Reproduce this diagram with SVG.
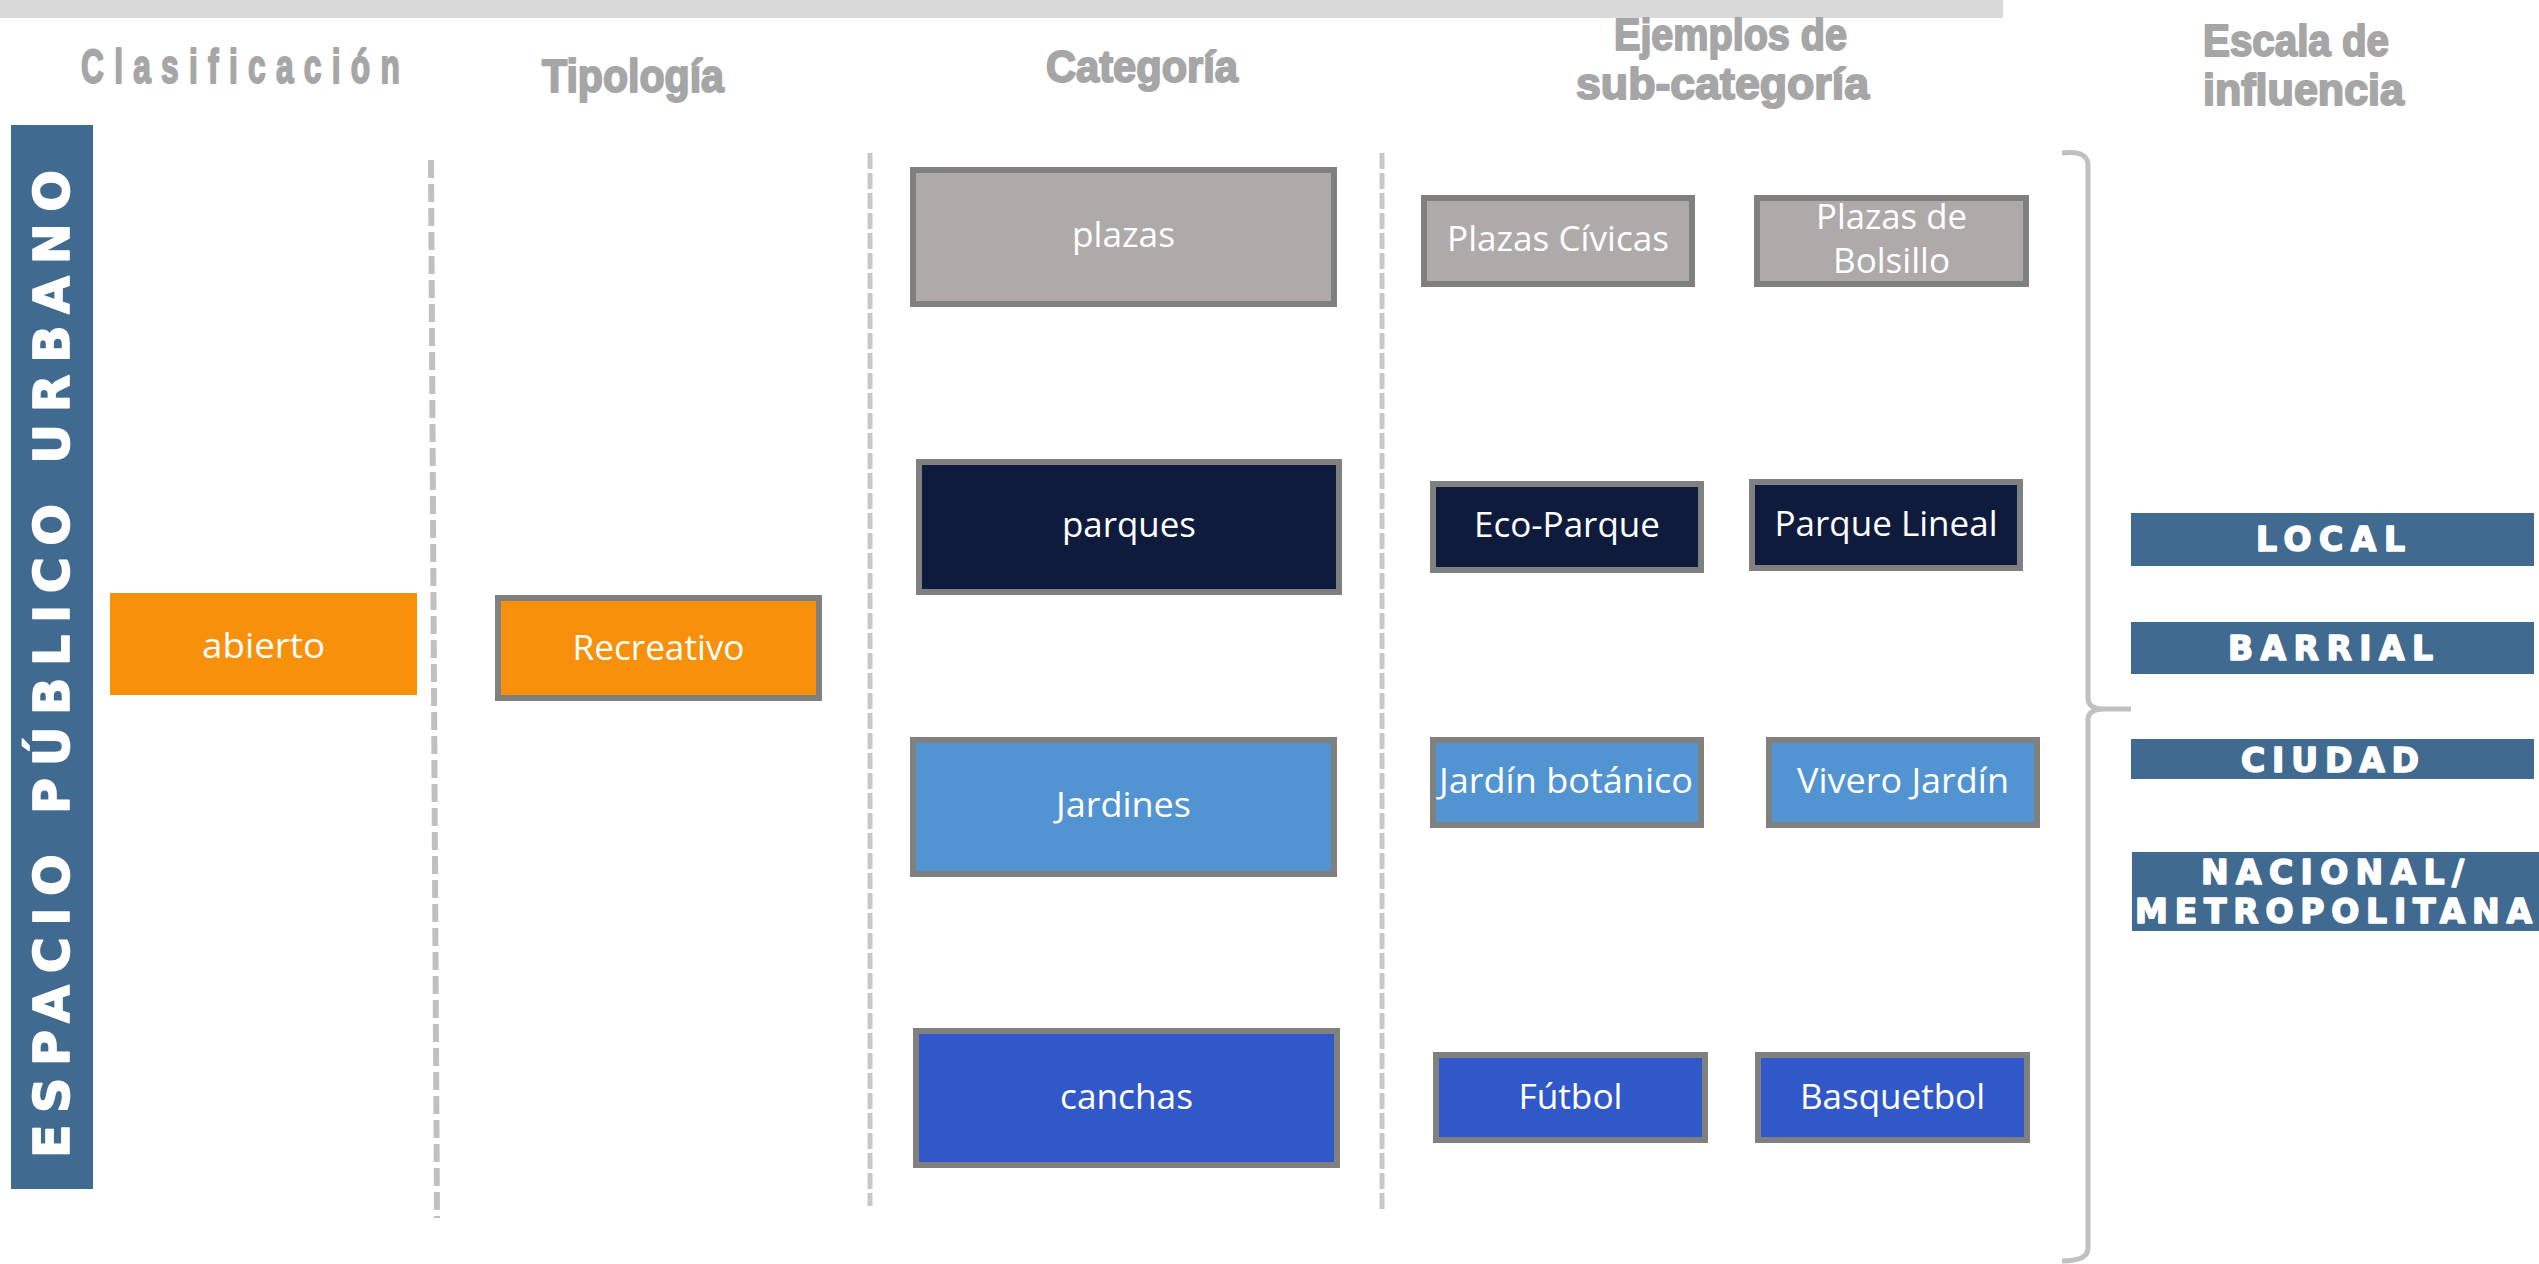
<svg xmlns="http://www.w3.org/2000/svg" width="2539" height="1264" viewBox="0 0 2539 1264">
<style>
.hdr{font-family:"Liberation Sans",Arial,sans-serif;font-weight:bold;fill:#a6a6a6;stroke:#a6a6a6;stroke-width:2;stroke-linejoin:round}
.box{stroke:#808080;stroke-width:6}
.lbl{font-family:"Open Sans","Noto Sans",sans-serif;font-size:35px;fill:#ffffff;text-anchor:middle}
.heavy{font-family:"DejaVu Sans","Liberation Sans",sans-serif;font-weight:bold;fill:#ffffff;stroke:#ffffff;stroke-width:1.6;stroke-linejoin:round}
.sep1{stroke:#c0c0c0;stroke-width:6;stroke-dasharray:18 6;fill:none}
.sep2{stroke:#c8c8c8;stroke-width:5;stroke-dasharray:16 4;fill:none}
.brace{stroke:#c0c0c0;stroke-width:5;fill:none}
.gray{fill:#aeaaaa}.navy{fill:#0f1b3d}.lblue{fill:#5294d1}.dblue{fill:#3158c8}.orange{fill:#f7910b}.steel{fill:#416a90}
</style>
<rect x="0" y="0" width="2003" height="18" fill="#d9d9d9"/>
<g id="headers">
<text class="hdr" font-size="48" transform="scale(0.66,1)" x="122.7" y="83" textLength="483" lengthAdjust="spacing">Clasificación</text>
<text class="hdr" font-size="46" x="542" y="92" textLength="182" lengthAdjust="spacingAndGlyphs">Tipología</text>
<text class="hdr" font-size="45" x="1046" y="82" textLength="192" lengthAdjust="spacingAndGlyphs">Categoría</text>
<text class="hdr" font-size="45" x="1614" y="50" textLength="233" lengthAdjust="spacingAndGlyphs">Ejemplos de</text>
<text class="hdr" font-size="45" x="1576" y="99" textLength="293" lengthAdjust="spacingAndGlyphs">sub-categoría</text>
<text class="hdr" font-size="44" x="2203" y="56" textLength="186" lengthAdjust="spacingAndGlyphs">Escala de</text>
<text class="hdr" font-size="44" x="2203" y="105" textLength="201" lengthAdjust="spacingAndGlyphs">influencia</text>
</g>
<g id="connectors">
<line class="sep1" x1="431" y1="160" x2="437" y2="1218"/>
<line class="sep2" x1="870" y1="153" x2="870" y2="1206"/>
<line class="sep2" x1="1382" y1="153" x2="1382" y2="1210"/>
<path class="brace" d="M2062,153 Q2088,150 2088,165 L2088,698 Q2088,709 2104,709 L2131,709 M2104,709 Q2088,709 2088,720 L2088,1248 Q2088,1261 2062,1261"/>
</g>
<g id="espacio-publico-urbano">
<rect class="steel" x="11" y="125" width="82" height="1064"/>
<text class="heavy" font-size="49" transform="translate(69,1158) rotate(-90)" x="0" y="0" textLength="988" lengthAdjust="spacing">ESPACIO PÚBLICO URBANO</text>
</g>
<g id="abierto">
<rect class="orange" x="110" y="593" width="307" height="102"/>
<text class="lbl" x="263.5" y="658" textLength="123" lengthAdjust="spacingAndGlyphs">abierto</text>
</g>
<g id="recreativo">
<rect class="orange box" x="498" y="598" width="321" height="100"/>
<text class="lbl" x="658.5" y="660" textLength="172" lengthAdjust="spacingAndGlyphs">Recreativo</text>
</g>
<g id="plazas">
<rect class="gray box" x="913" y="170" width="421" height="134"/>
<text class="lbl" x="1123.5" y="247" textLength="103" lengthAdjust="spacingAndGlyphs">plazas</text>
</g>
<g id="parques">
<rect class="navy box" x="919" y="462" width="420" height="130"/>
<text class="lbl" x="1129" y="537" textLength="134" lengthAdjust="spacingAndGlyphs">parques</text>
</g>
<g id="jardines">
<rect class="lblue box" x="913" y="740" width="421" height="134"/>
<text class="lbl" x="1123.5" y="817" textLength="135" lengthAdjust="spacingAndGlyphs">Jardines</text>
</g>
<g id="canchas">
<rect class="dblue box" x="916" y="1031" width="421" height="134"/>
<text class="lbl" x="1126.5" y="1109" textLength="133" lengthAdjust="spacingAndGlyphs">canchas</text>
</g>
<g id="plazas-civicas">
<rect class="gray box" x="1424" y="198" width="268" height="86"/>
<text class="lbl" x="1558" y="251" textLength="222" lengthAdjust="spacingAndGlyphs">Plazas Cívicas</text>
</g>
<g id="plazas-de-bolsillo">
<rect class="gray box" x="1757" y="198" width="269" height="86"/>
<text class="lbl" x="1891.5" y="229" textLength="151" lengthAdjust="spacingAndGlyphs">Plazas de</text>
<text class="lbl" x="1891.5" y="273" textLength="117" lengthAdjust="spacingAndGlyphs">Bolsillo</text>
</g>
<g id="eco-parque">
<rect class="navy box" x="1433" y="484" width="268" height="86"/>
<text class="lbl" x="1567" y="537" textLength="186" lengthAdjust="spacingAndGlyphs">Eco-Parque</text>
</g>
<g id="parque-lineal">
<rect class="navy box" x="1752" y="482" width="268" height="86"/>
<text class="lbl" x="1886" y="536" textLength="223" lengthAdjust="spacingAndGlyphs">Parque Lineal</text>
</g>
<g id="jardin-botanico">
<rect class="lblue box" x="1433" y="740" width="268" height="85"/>
<text class="lbl" x="1566" y="793" textLength="254" lengthAdjust="spacingAndGlyphs">Jardín botánico</text>
</g>
<g id="vivero-jardin">
<rect class="lblue box" x="1769" y="740" width="268" height="85"/>
<text class="lbl" x="1903" y="793" textLength="212" lengthAdjust="spacingAndGlyphs">Vivero Jardín</text>
</g>
<g id="futbol">
<rect class="dblue box" x="1436" y="1055" width="269" height="85"/>
<text class="lbl" x="1570.5" y="1109" textLength="104" lengthAdjust="spacingAndGlyphs">Fútbol</text>
</g>
<g id="basquetbol">
<rect class="dblue box" x="1758" y="1055" width="269" height="85"/>
<text class="lbl" x="1892.5" y="1109" textLength="185" lengthAdjust="spacingAndGlyphs">Basquetbol</text>
</g>
<g id="local">
<rect class="steel" x="2131" y="513" width="403" height="53"/>
<text class="heavy" font-size="33" x="2256" y="551" textLength="149" lengthAdjust="spacing">LOCAL</text>
</g>
<g id="barrial">
<rect class="steel" x="2131" y="622" width="403" height="52"/>
<text class="heavy" font-size="33" x="2228" y="660" textLength="205" lengthAdjust="spacing">BARRIAL</text>
</g>
<g id="ciudad">
<rect class="steel" x="2131" y="739" width="403" height="40"/>
<text class="heavy" font-size="33" x="2241" y="772" textLength="178" lengthAdjust="spacing">CIUDAD</text>
</g>
<g id="nacional-metropolitana">
<rect class="steel" x="2132" y="852" width="407" height="79"/>
<text class="heavy" font-size="33" x="2201" y="884" textLength="263" lengthAdjust="spacing">NACIONAL/</text>
<text class="heavy" font-size="33" x="2135" y="923" textLength="397" lengthAdjust="spacing">METROPOLITANA</text>
</g>
</svg>
